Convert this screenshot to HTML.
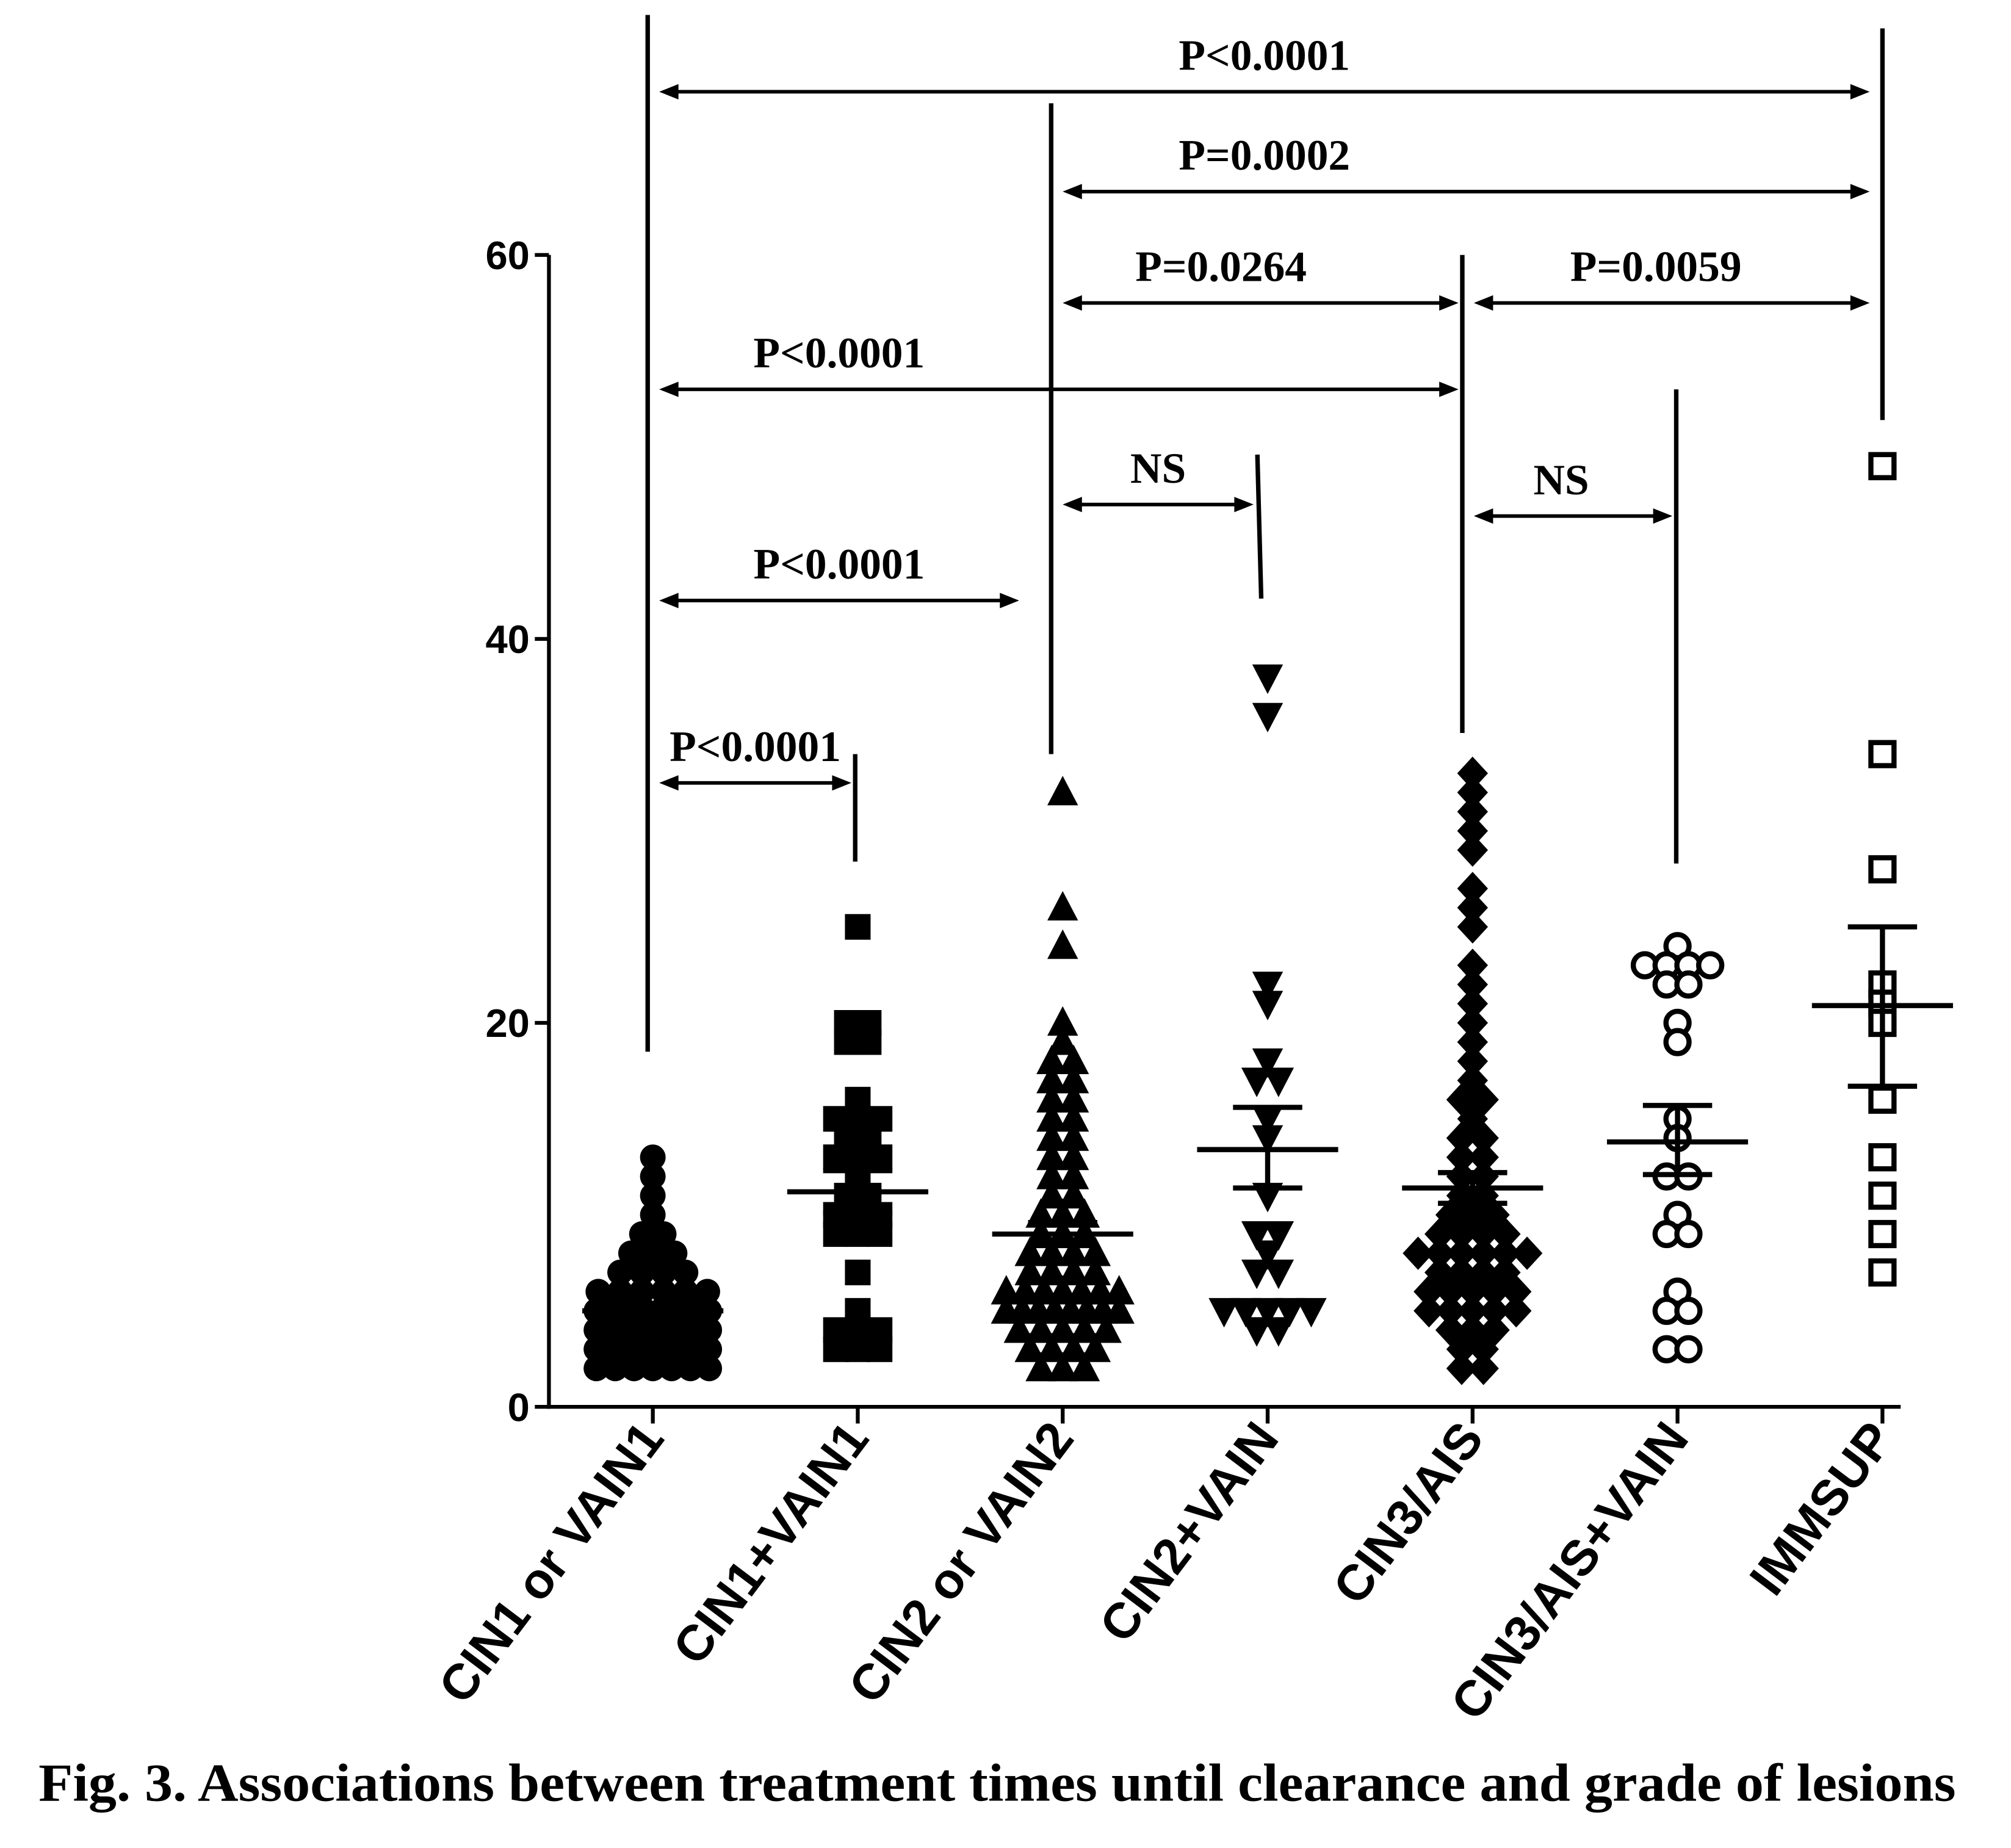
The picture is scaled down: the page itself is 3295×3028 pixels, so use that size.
<!DOCTYPE html>
<html><head><meta charset="utf-8"><style>
html,body{margin:0;padding:0;background:#fff}
svg{display:block}
.pt{font-family:"Liberation Serif",serif;font-weight:bold;font-size:34px}
.tk{font-family:"Liberation Sans",sans-serif;font-weight:bold;font-size:31px}
.cat{font-family:"Liberation Sans",sans-serif;font-weight:bold;font-size:39px}
</style></head><body>
<svg id="chart" width="3295" height="3028" viewBox="0 0 1568 1441" xmlns="http://www.w3.org/2000/svg">
<g id="axes"></g>
<g id="brackets"></g>
<g id="marks"></g>
<text x="30" y="1404" textLength="1495" lengthAdjust="spacingAndGlyphs" font-family="Liberation Serif, serif" font-weight="bold" font-size="42">Fig. 3. Associations between treatment times until clearance and grade of lesions</text>
</svg>
<script>
const categories=["CIN1 or VAIN1","CIN1+VAIN1","CIN2 or VAIN2","CIN2+VAIN","CIN3/AIS","CIN3/AIS+VAIN","IMMSUP"];
const yTicks=[0,20,40,60];
const g1=[13,12,11,10,9,9,8,8,8,7,7,7,7,6,6,6,6,6,6,5,5,5,5,5,5,5,5,4,4,4,4,4,4,4,4,4,4,3,3,3,3,3,3,3,3,3,3,3,2,2,2,2,2,2,2];
const g2=[25,20,20,19,19,16,15,15,15,14,14,13,13,13,12,11,11,10,10,10,9,9,9,7,5,4,4,4,3,3,3];
const g3=[32,26,24,20,19,18,18,17,17,16,16,15,15,14,14,13,13,12,12,11,11,10,10,10,9,9,9,8,8,8,8,7,7,7,7,6,6,6,6,6,6,6,5,5,5,5,5,5,5,5,4,4,4,4,4,3,3,3,3,2,2,2];
const g4=[38,36,22,21,18,17,17,15,14,11,9,9,8,7,7,5,5,5,5,5,4,4];
const g5=[33,32,31,30,29,27,26,25,23,22,21,20,19,18,17,16,16,15,14,14,13,13,12,12,11,11,10,10,10,9,9,9,9,8,8,8,8,8,8,7,7,7,7,6,6,6,6,6,5,5,5,5,5,4,4,4,3,3,2,2];
const g6=[24,23,23,23,23,22,22,20,19,15,14,12,12,10,9,9,6,5,5,3,3];
const g7=[49,34,28,22,21,20,16,13,11,9,7];
const means=[5,11.2,9,13.4,11.4,13.8,20.9];
const semLo=[4.7,10.1,8.4,11.4,10.6,12.1,16.7];
const semHi=[5.3,12.3,9.6,15.6,12.2,15.7,25];
const bracketFrom=[0,2,2,4,0,2,4,0,0];
const bracketTo=[6,6,4,6,4,3,5,2,1];
const bracketLevel=[68.5,63.3,57.5,57.5,53,47,46.4,42,32.5];
const bracketLabel=["P<0.0001","P=0.0002","P=0.0264","P=0.0059","P<0.0001","NS","NS","P<0.0001","P<0.0001"];
const labelFrac=[0.5,0.25,0.4,0.46,0.225,0.5,0.44,0.5,0.5];
const vlineCat=[0,1,2,3,4,5,6];
const vlineTop=[72.5,34,67.9,49.6,60,53,71.8];
const vlineBot=[18.5,28.4,34,42.1,35.1,28.3,51.4];
const vlineShift=[-4,-2,-9,-8,-8,-1,0];

const NS="http://www.w3.org/2000/svg";
const X0=428,Y0=1097,PX=14.97;
const cx=i=>509+i*159.8;
const yy=v=>Y0-v*PX;
const vx=i=>cx(i)+vlineShift[i];
function mk(t,a,p){const e=document.createElementNS(NS,t);for(const k in a)e.setAttribute(k,a[k]);p.appendChild(e);return e;}
const axes=document.getElementById('axes'),br=document.getElementById('brackets'),mg=document.getElementById('marks');

let e=mk('line',{x1:X0,y1:yy(60),x2:X0,y2:Y0+1.5,stroke:'#000','stroke-width':3},axes);

e=mk('line',{x1:X0-1.5,y1:Y0,x2:1482,y2:Y0,stroke:'#000','stroke-width':3},axes);

yTicks.forEach(v=>{
 let t=mk('line',{x1:X0-11,y1:yy(v),x2:X0,y2:yy(v),stroke:'#000','stroke-width':3},axes);
 
 let l=mk('text',{x:X0-15,y:yy(v)+11,'text-anchor':'end',class:'tk'},axes);l.textContent=v;
 
});
categories.forEach((c,i)=>{
 let t=mk('line',{x1:cx(i),y1:Y0,x2:cx(i),y2:Y0+13,stroke:'#000','stroke-width':3},axes);
 
 let l=mk('text',{x:cx(i)+10,y:1122,'text-anchor':'end',class:'cat',transform:`rotate(-53 ${cx(i)+10} 1122)`},axes);l.textContent=c;
 
});
vlineCat.forEach((c,i)=>{
 let x=vx(c);
 let l=mk('line',{x1:x,y1:yy(vlineTop[i]),x2:c==3?x+3:x,y2:yy(vlineBot[i]),stroke:'#000','stroke-width':3.5},br);
 
});
function arrowHead(x,y,dir){return mk('polygon',{points:`${x},${y} ${x+dir*15},${y-6} ${x+dir*15},${y+6}`,fill:'#000'},br);}
bracketLabel.forEach((lab,i)=>{
 const x1=vx(bracketFrom[i])+9;
 const x2=bracketTo[i]==2?vx(2)-25:(bracketTo[i]==6?vx(6)-10:vx(bracketTo[i])-3);
 const y=yy(bracketLevel[i]);
 let l=mk('line',{x1:x1+6,y1:y,x2:x2-6,y2:y,stroke:'#000','stroke-width':2.8},br);
 
 let a=arrowHead(x1,y,1);
 a=arrowHead(x2,y,-1);
 let t=mk('text',{x:x1+(x2-x1)*labelFrac[i],y:y-17,'text-anchor':'middle',class:'pt'},br);t.textContent=lab;
 
});
const groups=[g1,g2,g3,g4,g5,g6,g7];
const shapes=['circle','square','tri-up','tri-down','diamond','ocircle','osquare'];
function drawMark(s,x,y){
 let el;
 if(s=='circle')el=mk('circle',{cx:x,cy:y,r:10,fill:'#000'},mg);
 else if(s=='ocircle')el=mk('circle',{cx:x,cy:y,r:9,fill:'#fff',stroke:'#000','stroke-width':4},mg);
 else if(s=='square')el=mk('rect',{x:x-10,y:y-10,width:20,height:20,fill:'#000'},mg);
 else if(s=='osquare')el=mk('rect',{x:x-9,y:y-9,width:18,height:18,fill:'#fff',stroke:'#000','stroke-width':4},mg);
 else if(s=='tri-up')el=mk('polygon',{points:`${x},${y-13} ${x-12},${y+10} ${x+12},${y+10}`,fill:'#000'},mg);
 else if(s=='tri-down')el=mk('polygon',{points:`${x},${y+13} ${x-12},${y-10} ${x+12},${y-10}`,fill:'#000'},mg);
 else el=mk('polygon',{points:`${x},${y-13} ${x+12},${y} ${x},${y+13} ${x-12},${y}`,fill:'#000'},mg);
 return el;
}
groups.forEach((g,gi)=>{
 const counts={};g.forEach(v=>counts[v]=(counts[v]||0)+1);
 const seen={};
 g.forEach(v=>{
  const n=counts[v];const k=seen[v]||0;seen[v]=k+1;
  const d=n>1?Math.min(17,88/(n-1)):0;
  const off=(k-(n-1)/2)*d;
  const m=drawMark(shapes[gi],cx(gi)+off,yy(v));
  
 });
});
means.forEach((m,i)=>{
 const x=cx(i);
 let l=mk('line',{x1:x-55,y1:yy(m),x2:x+55,y2:yy(m),stroke:'#000','stroke-width':4},mg);
 
 l=mk('line',{x1:x,y1:yy(semLo[i]),x2:x,y2:yy(semHi[i]),stroke:'#000','stroke-width':4},mg);
 
 [semLo[i],semHi[i]].forEach(v=>{
  let c=mk('line',{x1:x-27,y1:yy(v),x2:x+27,y2:yy(v),stroke:'#000','stroke-width':4},mg);
  
 });
});
</script>
</body></html>
